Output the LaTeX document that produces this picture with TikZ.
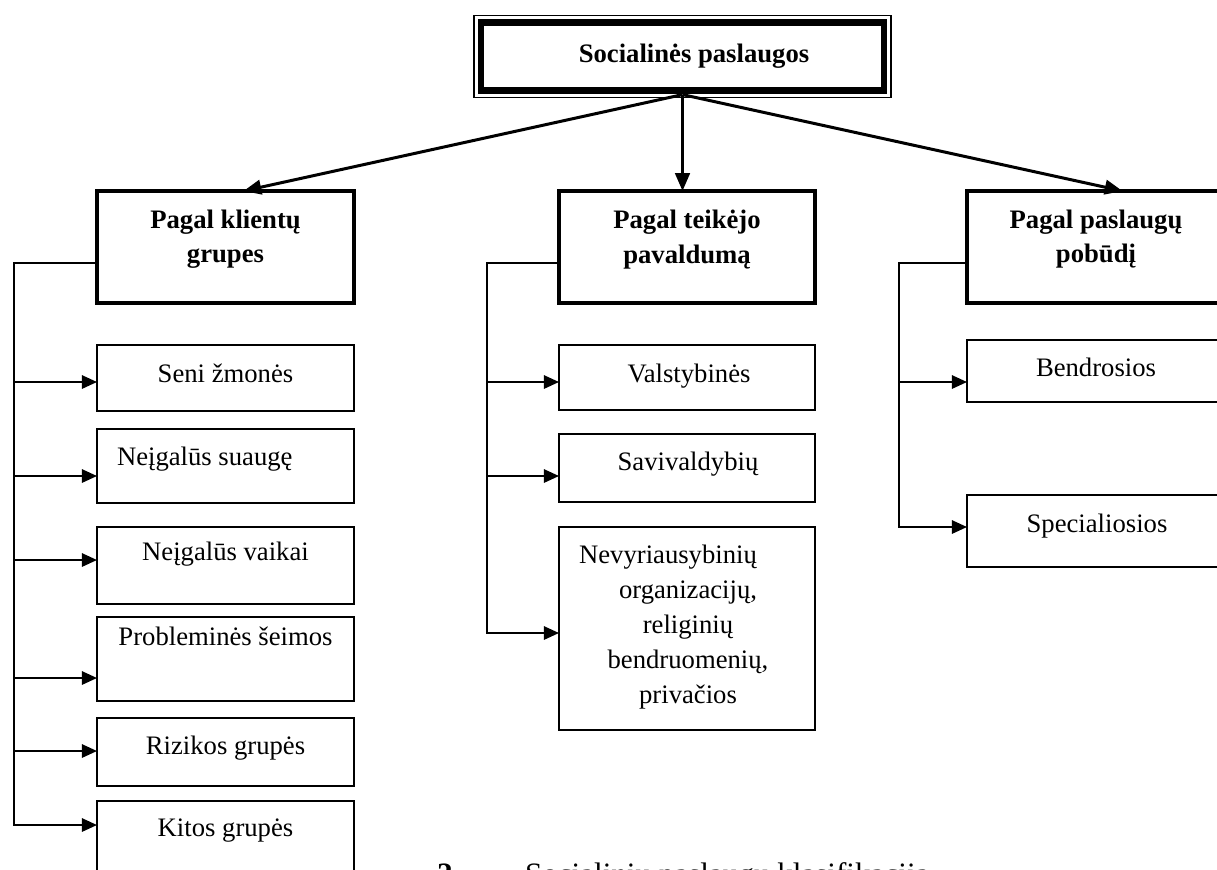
\documentclass[tikz,border=0pt]{standalone}
\usepackage{fontspec}
\setmainfont{Liberation Serif}
\usetikzlibrary{arrows.meta,calc}
\begin{document}
\begin{tikzpicture}[x=0.45pt,y=-0.45pt,
  every node/.style={inner sep=0pt, outer sep=0pt},
  font=\fontsize{12}{14}\selectfont,
  sz/.style 2 args={minimum width={#1*0.45pt},minimum height={#2*0.45pt}},
  topbox/.style={draw, line width=3pt, anchor=north west},
  hdr/.style={draw, line width=2pt, anchor=north west},
  cbox/.style={draw, line width=0.9pt, anchor=north west},
  tx/.style={anchor=base},
  bt/.style={anchor=base, font=\fontsize{12}{14}\selectfont\bfseries},
  ln/.style={line width=0.9pt},
  arr/.style={line width=0.9pt, -{Triangle[length=6.8pt,width=6pt]}},
  tarr/.style={line width=1.35pt, -{Triangle[length=8pt,width=6.5pt]}}
]
\useasboundingbox (0,0) rectangle (1217,869);

% top box
\node[topbox, sz={403}{68}] (top) at (481,22.6) {};
\draw[line width=0.8pt] ($(top.north west)+(-7,-7)$) rectangle ($(top.south east)+(7,7)$);
\node[bt] (toptx) at (694,62) {Socialinės paslaugos};

% header boxes
\node[hdr, sz={257}{112}] (h1) at (97,191) {};
\node[bt] (h1a) at (225.5,228) {Pagal klientų};
\node[bt] (h1b) at (225.5,262) {grupes};
\node[hdr, sz={256}{112}] (h2) at (559,191) {};
\node[bt] (h2a) at (687,228) {Pagal teikėjo};
\node[bt] (h2b) at (687,263) {pavaldumą};
\node[hdr, sz={257}{112}] (h3) at (967,191) {};
\node[bt] (h3a) at (1096,228) {Pagal paslaugų};
\node[bt] (h3b) at (1096,262) {pobūdį};

% arrows from top
\coordinate (hub) at ($(top.south)+(0,4)$);
\draw[tarr] (hub) -- ($(h1.north)+(18,0)$);
\draw[tarr] (hub) -- (hub |- h2.north);
\draw[tarr] (hub) -- ($(h3.north)+(27,0)$);

% left column
\node[cbox, sz={257}{66}] (c1) at (97,345) {};
\node[tx] (c1t) at (225.5,382) {Seni žmonės};
\node[cbox, sz={257}{74}] (c2) at (97,429) {};
\node[tx, anchor=base west] (c2t) at (117,465) {Neįgalūs suaugę};
\node[cbox, sz={257}{77}] (c3) at (97,527) {};
\node[tx] (c3t) at (225.5,560) {Neįgalūs vaikai};
\node[cbox, sz={257}{84}] (c4) at (97,617) {};
\node[tx] (c4t) at (225.5,645) {Probleminės šeimos};
\node[cbox, sz={257}{68}] (c5) at (97,718) {};
\node[tx] (c5t) at (225.5,754) {Rizikos grupės};
\node[cbox, sz={257}{120}] (c6) at (97,801) {};
\node[tx] (c6t) at (225.5,836) {Kitos grupės};

\coordinate (s1) at (14,263);
\foreach \n/\yy in {c1/382,c2/476,c3/560,c4/678,c5/751}
  \draw[arr] (s1 |- 0,\yy) -- (\n.west |- 0,\yy);
\draw[arr] (h1.west |- s1) -- (s1) -- (s1 |- 0,825) -- (c6.west |- 0,825);

% middle column
\node[cbox, sz={256}{65}] (m1) at (559,345) {};
\node[tx] (m1t) at (689,382) {Valstybinės};
\node[cbox, sz={256}{68}] (m2) at (559,434) {};
\node[tx] (m2t) at (688,470) {Savivaldybių};
\node[cbox, sz={256}{203}] (m3) at (559,527) {};
\node[tx] (m3a) at (668,563) {Nevyriausybinių};
\node[tx] (m3b) at (688,598) {organizacijų,};
\node[tx] (m3c) at (688,633) {religinių};
\node[tx] (m3d) at (688,668) {bendruomenių,};
\node[tx] (m3e) at (688,703) {privačios};

\coordinate (s2) at (487,263);
\draw[arr] (s2 |- 0,382) -- (m1.west |- 0,382);
\draw[arr] (s2 |- 0,476) -- (m2.west |- 0,476);
\draw[arr] (h2.west |- s2) -- (s2) -- (s2 |- 0,633) -- (m3.west |- 0,633);

% right column
\node[cbox, sz={257}{62}] (r1) at (967,340) {};
\node[tx] (r1t) at (1096,376) {Bendrosios};
\node[cbox, sz={257}{72}] (r2) at (967,495) {};
\node[tx] (r2t) at (1097,532) {Specialiosios};

\coordinate (s3) at (899,263);
\draw[arr] (s3 |- 0,382) -- (r1.west |- 0,382);
\draw[arr] (h3.west |- s3) -- (s3) -- (s3 |- 0,527) -- (r2.west |- 0,527);

% caption
\node[anchor=base west, font=\fontsize{14}{16}\selectfont] (cap) at (437,884)
  {\makebox[39.6pt][l]{\textbf{2.}}Socialinių paslaugų klasifikacija};
\end{tikzpicture}
\end{document}
